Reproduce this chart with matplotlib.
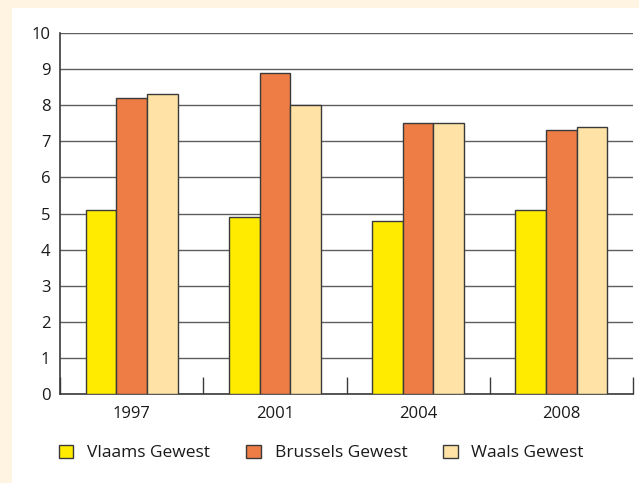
import matplotlib
matplotlib.use('Agg')
import matplotlib.pyplot as plt
import matplotlib.patches as mpatches
import numpy as np

plt.rcParams['font.family'] = ['Open Sans', 'DejaVu Sans']

# Colours
PAGE_BG = "#FEF4E1"
YELLOW = "#FFEB00"
ORANGE = "#EE7C45"
CREAM = "#FFE3A6"
EDGE = "#3A3A3A"
TEXT = "#1A1A1A"

years = ["1997", "2001", "2004", "2008"]
series_names = ["Vlaams Gewest", "Brussels Gewest", "Waals Gewest"]
vlaams = [5.1, 4.9, 4.8, 5.1]
brussels = [8.2, 8.9, 7.5, 7.3]
waals = [8.3, 8.0, 7.5, 7.4]
y_ticks = list(range(0, 11))

fig = plt.figure(figsize=(6.39, 4.83), dpi=100)
fig.patch.set_facecolor(PAGE_BG)

# white card behind the chart
card = mpatches.Rectangle((12 / 639, 0), 1, 1 - 8 / 483,
                          transform=fig.transFigure, facecolor='white',
                          edgecolor='none', zorder=-10)
fig.patches.append(card)

ax = fig.add_axes([60 / 639, 1 - 394 / 483, (633 - 60) / 639, (394 - 33) / 483])
ax.set_facecolor('white')

x = np.arange(len(years))
w = 0.214
for vals, col, off in [(vlaams, YELLOW, -w), (brussels, ORANGE, 0), (waals, CREAM, w)]:
    ax.bar(x + off, vals, width=w, color=col, edgecolor=EDGE, linewidth=1.0, zorder=3)

ax.set_xlim(-0.5, len(years) - 0.5)
ax.set_ylim(0, 10)
ax.set_yticks(y_ticks)
ax.set_yticklabels([str(t) for t in y_ticks], fontsize=12, color=TEXT)
ax.tick_params(axis='y', length=0, pad=7)

# category separators as inward ticks, labels centred under groups
ax.set_xticks(np.arange(len(years) + 1) - 0.5)
ax.set_xticklabels([])
ax.set_xticks(x, minor=True)
ax.set_xticklabels(years, minor=True, fontsize=12, color=TEXT)
ax.tick_params(axis='x', which='major', direction='in', length=12, width=1.0, color=EDGE)
ax.tick_params(axis='x', which='minor', length=0, pad=9)

ax.grid(axis='y', color='#5E5E5E', linewidth=1.0, zorder=1)
ax.set_axisbelow(True)
for side in ['top', 'right']:
    ax.spines[side].set_visible(False)
for side in ['left', 'bottom']:
    ax.spines[side].set_color(EDGE)
    ax.spines[side].set_linewidth(1.2)

handles = [mpatches.Patch(facecolor=c, edgecolor=EDGE, linewidth=1.0, label=n)
           for c, n in zip([YELLOW, ORANGE, CREAM], series_names)]
fig.legend(handles=handles, loc='center left', bbox_to_anchor=(43 / 639, 1 - 453 / 483),
           ncol=3, frameon=False, fontsize=12.5, handlelength=0.85, handleheight=0.85,
           handletextpad=0.8, columnspacing=2.05, labelcolor=TEXT)

fig.savefig('out.png', dpi=100, facecolor=fig.get_facecolor())
